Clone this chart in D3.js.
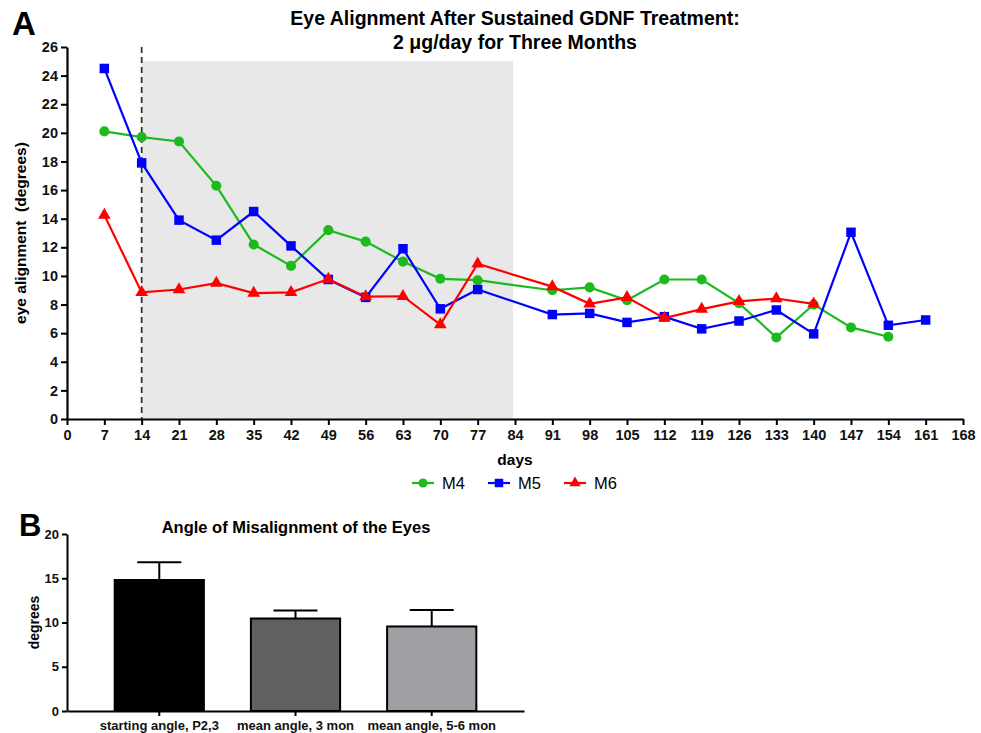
<!DOCTYPE html>
<html>
  <head>
    <meta charset="utf-8">
    <title>Eye Alignment After Sustained GDNF Treatment</title>
    <script src="https://d3js.org/d3.v7.min.js"></script>
    <style>
      body { margin: 0; background: #fff; }
      text { font-family: "Liberation Sans", Arial, sans-serif; }
    </style>
  </head>
  <body>
    <svg width="981" height="733" id="chart"></svg>

  <script type="text/javascript">
    // panel A data
    var days = [7, 14, 21, 28, 35, 42, 49, 56, 63, 70, 77, 91, 98, 105, 112, 119, 126, 133, 140, 147, 154, 161];
    var m4 = [20.1, 19.7, 19.4, 16.3, 12.2, 10.7, 13.2, 12.4, 11.0, 9.8, 9.7, 9.0, 9.2, 8.3, 9.75, 9.75, 8.1, 5.7, 8.0, 6.4, 5.75, null];
    var m5 = [24.5, 17.9, 13.9, 12.5, 14.5, 12.1, 9.75, 8.5, 11.9, 7.7, 9.05, 7.3, 7.38, 6.75, 7.15, 6.3, 6.85, 7.62, 5.95, 13.05, 6.55, 6.92];
    var m6 = [14.25, 8.85, 9.05, 9.5, 8.8, 8.85, 9.78, 8.55, 8.58, 6.6, 10.85, 9.25, 8.05, 8.5, 7.05, 7.68, 8.22, 8.42, 8.05, null, null, null];
    var xTicks = d3.range(0, 169, 7);
    var yTicks = d3.range(0, 27, 2);
    var treatStart = 14, treatEnd = 84, treatTop = 25;

    // panel B data
    var barLabels = ["starting angle, P2,3", "mean angle, 3 mon", "mean angle, 5-6 mon"];
    var barValues = [14.8, 10.45, 9.55];
    var barErrors = [2.0, 0.9, 1.85];
    var barColors = ["#000000", "#606060", "#a0a0a4"];

    var svg = d3.select("#chart");

    // ---------- panel A ----------
    var x = d3.scaleLinear().domain([0, 168]).range([67, 963]);
    var y = d3.scaleLinear().domain([0, 26]).range([419, 47]);

    svg.append("rect")
        .attr("x", x(treatStart))
        .attr("y", y(treatTop))
        .attr("width", x(treatEnd) - x(treatStart) - 2)
        .attr("height", y(0) - y(treatTop))
        .attr("fill", "#e8e8e8");

    svg.append("line")
        .attr("x1", x(14)).attr("x2", x(14))
        .attr("y1", y(26)).attr("y2", y(0))
        .attr("stroke", "#333").attr("stroke-width", 1.8)
        .attr("stroke-dasharray", "6,4");

    var xAxis = svg.append("g")
        .attr("transform", "translate(0," + y(0) + ")")
        .call(d3.axisBottom(x).tickValues(xTicks).tickSize(6).tickPadding(5).tickSizeOuter(0));
    var yAxis = svg.append("g")
        .attr("transform", "translate(" + x(0) + ",0)")
        .call(d3.axisLeft(y).tickValues(yTicks).tickSize(6).tickPadding(3).tickSizeOuter(0));
    [xAxis, yAxis].forEach(function(g) {
        g.select(".domain").attr("stroke", "#000").attr("stroke-width", 2.2);
        g.selectAll(".tick line").attr("stroke", "#000").attr("stroke-width", 2);
        g.selectAll(".tick text")
            .attr("fill", "#111")
            .style("font-family", "'Liberation Sans', Arial, sans-serif")
            .style("font-size", "14.5px").style("font-weight", "bold");
    });

    var series = [
        {name: "M4", values: m4, color: "#1cba1c", shape: d3.symbolCircle, size: 80},
        {name: "M5", values: m5, color: "#0000ff", shape: d3.symbolSquare, size: 90},
        {name: "M6", values: m6, color: "#ff0000", shape: d3.symbolTriangle, size: 70}
    ];

    var line = d3.line()
        .defined(function(d) { return d.v != null; })
        .x(function(d) { return x(d.day); })
        .y(function(d) { return y(d.v); });

    series.forEach(function(s) {
        var pts = days.map(function(d, i) { return {day: d, v: s.values[i]}; });
        svg.append("path")
            .attr("d", line(pts))
            .attr("fill", "none")
            .attr("stroke", s.color)
            .attr("stroke-width", 2.2);
        svg.selectAll(null)
            .data(pts.filter(function(p) { return p.v != null; }))
            .enter().append("path")
            .attr("d", d3.symbol().type(s.shape).size(s.size))
            .attr("transform", function(p) { return "translate(" + x(p.day) + "," + y(p.v) + ")"; })
            .attr("fill", s.color);
    });

    svg.append("text")
        .attr("x", 515).attr("y", 25)
        .attr("text-anchor", "middle")
        .style("font-size", "19.5px").style("font-weight", "bold")
        .text("Eye Alignment After Sustained GDNF Treatment:");
    svg.append("text")
        .attr("x", 515).attr("y", 49)
        .attr("text-anchor", "middle")
        .style("font-size", "19.5px").style("font-weight", "bold")
        .text("2 \u03bcg/day for Three Months");

    svg.append("text")
        .attr("x", 12).attr("y", 35)
        .style("font-size", "33px").style("font-weight", "bold")
        .text("A");

    svg.append("text")
        .attr("transform", "translate(26," + ((y(0) + y(26)) / 2) + ") rotate(-90)")
        .attr("text-anchor", "middle")
        .style("font-size", "15.5px").style("font-weight", "bold")
        .style("white-space", "pre")
        .text("eye alignment  (degrees)");

    svg.append("text")
        .attr("x", (x(0) + x(168)) / 2).attr("y", 465)
        .attr("text-anchor", "middle")
        .style("font-size", "15.5px").style("font-weight", "bold")
        .text("days");

    // legend
    var legend = svg.append("g");
    series.forEach(function(s, i) {
        var lx = 412 + i * 76, ly = 483;
        legend.append("line")
            .attr("x1", lx).attr("x2", lx + 22)
            .attr("y1", ly).attr("y2", ly)
            .attr("stroke", s.color).attr("stroke-width", 2.2);
        legend.append("path")
            .attr("d", d3.symbol().type(s.shape).size(s.size * 0.8))
            .attr("transform", "translate(" + (lx + 11) + "," + ly + ")")
            .attr("fill", s.color);
        legend.append("text")
            .attr("x", lx + 30).attr("y", ly + 6)
            .style("font-size", "16.5px")
            .text(s.name);
    });

    // ---------- panel B ----------
    var xb = d3.scaleBand().domain(barLabels).range([67, 524]).paddingInner(0.345).paddingOuter(0.35);
    var yb = d3.scaleLinear().domain([0, 20]).range([711, 534]);

    var bars = svg.append("g");
    barLabels.forEach(function(lbl, i) {
        var cx = xb(lbl) + xb.bandwidth() / 2;
        bars.append("line")
            .attr("x1", cx).attr("x2", cx)
            .attr("y1", yb(barValues[i])).attr("y2", yb(barValues[i] + barErrors[i]))
            .attr("stroke", "#000").attr("stroke-width", 2);
        bars.append("line")
            .attr("x1", cx - 22).attr("x2", cx + 22)
            .attr("y1", yb(barValues[i] + barErrors[i])).attr("y2", yb(barValues[i] + barErrors[i]))
            .attr("stroke", "#000").attr("stroke-width", 2);
        bars.append("rect")
            .attr("x", xb(lbl))
            .attr("y", yb(barValues[i]))
            .attr("width", xb.bandwidth())
            .attr("height", yb(0) - yb(barValues[i]))
            .attr("fill", barColors[i])
            .attr("stroke", "#000").attr("stroke-width", 2);
    });

    var xbAxis = svg.append("g")
        .attr("transform", "translate(0," + yb(0) + ")")
        .call(d3.axisBottom(xb).tickSize(5).tickPadding(5).tickSizeOuter(0));
    var ybAxis = svg.append("g")
        .attr("transform", "translate(67,0)")
        .call(d3.axisLeft(yb).tickValues([0, 5, 10, 15, 20]).tickSize(5).tickPadding(3).tickSizeOuter(0));
    [xbAxis, ybAxis].forEach(function(g) {
        g.select(".domain").attr("stroke", "#000").attr("stroke-width", 2);
        g.selectAll(".tick line").attr("stroke", "#000").attr("stroke-width", 2);
        g.selectAll(".tick text")
            .attr("fill", "#111")
            .style("font-family", "'Liberation Sans', Arial, sans-serif")
            .style("font-size", "13px").style("font-weight", "bold");
    });

    svg.append("text")
        .attr("x", 296).attr("y", 533)
        .attr("text-anchor", "middle")
        .style("font-size", "16.5px").style("font-weight", "bold")
        .text("Angle of Misalignment of the Eyes");

    svg.append("text")
        .attr("transform", "translate(39," + ((yb(0) + yb(20)) / 2) + ") rotate(-90)")
        .attr("text-anchor", "middle")
        .style("font-size", "14px").style("font-weight", "bold")
        .text("degrees");

    svg.append("text")
        .attr("x", 19).attr("y", 536)
        .style("font-size", "31px").style("font-weight", "bold")
        .text("B");
  </script>
  </body>
</html>
